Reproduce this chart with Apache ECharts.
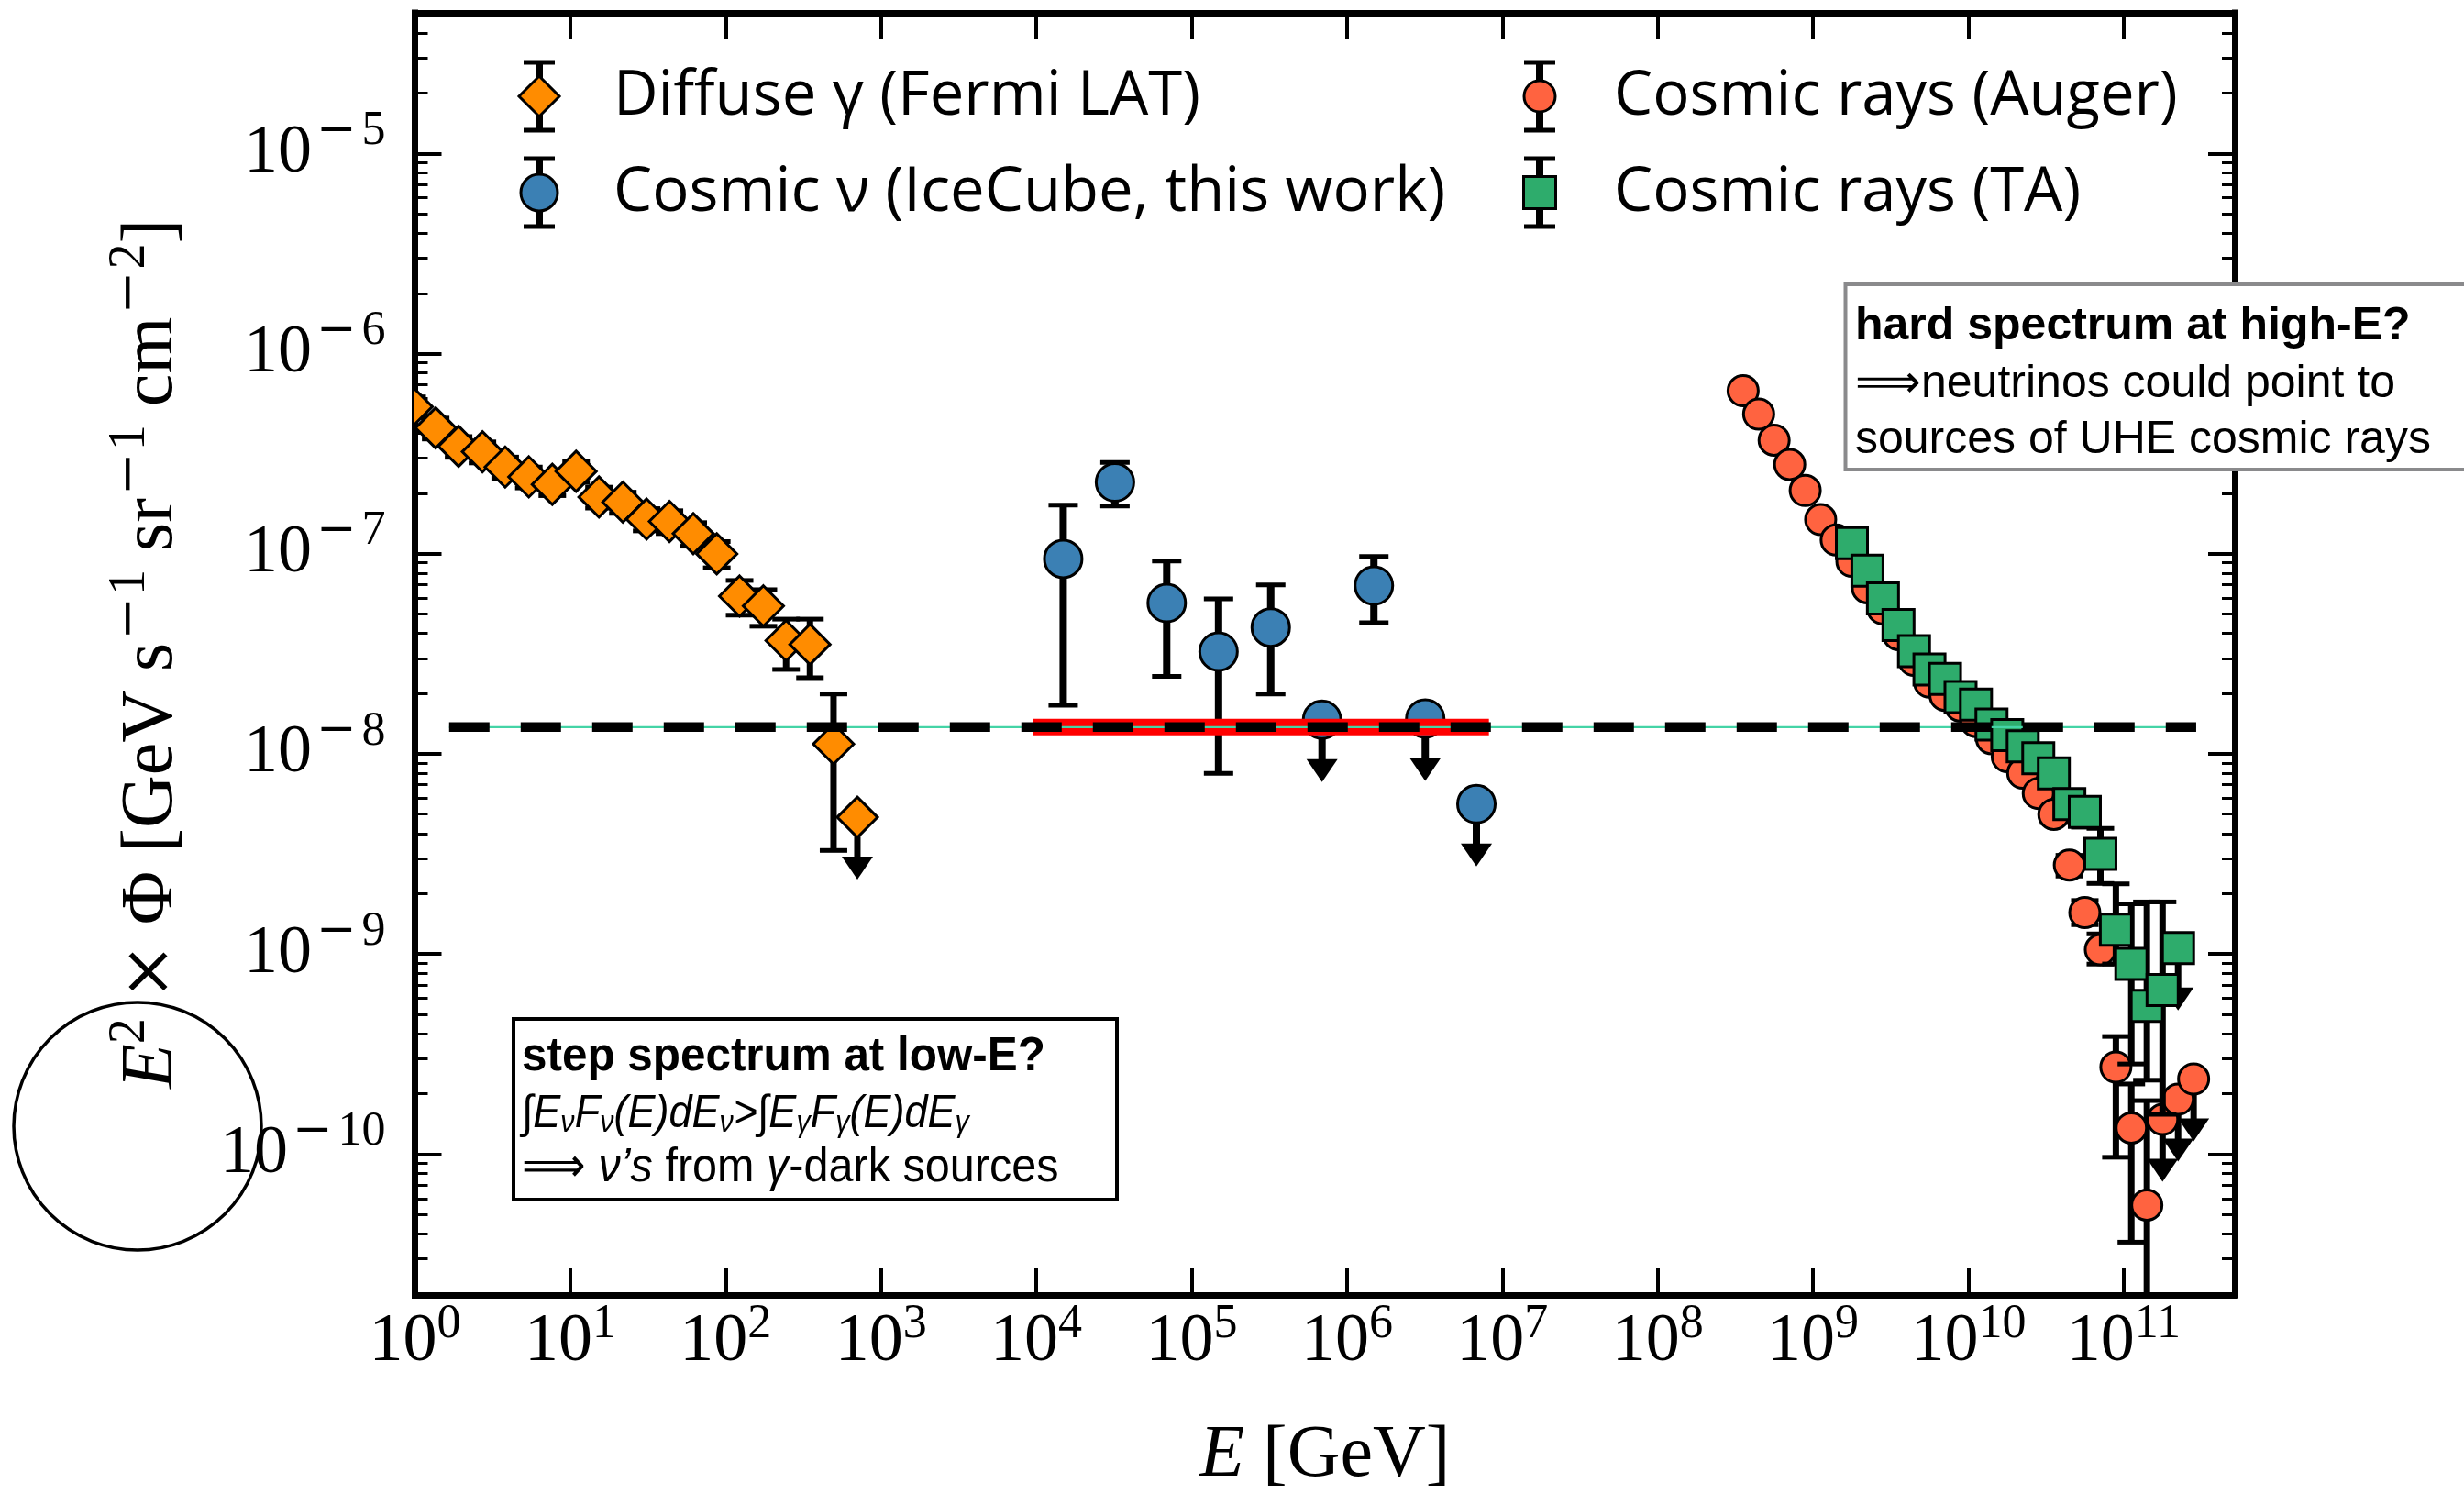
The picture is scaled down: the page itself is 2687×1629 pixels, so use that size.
<!DOCTYPE html>
<html>
<head>
<meta charset="utf-8">
<script src="https://cdn.jsdelivr.net/npm/echarts@6/dist/echarts.min.js"></script>
<style>
  html, body { margin: 0; padding: 0; background: #ffffff; }
  #chart { width: 2687px; height: 1629px; }
</style>
</head>
<body>
<div id="chart"></div>
<script>
// ---------------------------------------------------------------
// Multi-messenger spectra: E^2 x Phi [GeV s^-1 sr^-1 cm^-2] vs E [GeV]
// ---------------------------------------------------------------

// Diffuse gamma rays (Fermi LAT)
const fermiE    = [0.96, 1.36, 1.91, 2.72, 3.81, 5.41, 7.66, 10.9, 15.3, 21.8, 31.0, 43.5, 61.9, 87.7, 123, 175, 245, 349, 495, 705];
const fermiFlux = [5.43e-7, 4.25e-7, 3.44e-7, 3.23e-7, 2.71e-7, 2.42e-7, 2.22e-7, 2.58e-7, 1.92e-7, 1.81e-7, 1.49e-7, 1.45e-7, 1.26e-7, 9.98e-8, 6.14e-8, 5.48e-8, 3.68e-8, 3.52e-8, 1.12e-8, 4.82e-9];
const fermiLo   = [4.78e-7, 3.74e-7, 3.03e-7, 2.84e-7, 2.38e-7, 2.13e-7, 1.95e-7, 2.27e-7, 1.69e-7, 1.59e-7, 1.30e-7, 1.26e-7, 1.09e-7, 8.50e-8, 4.93e-8, 4.34e-8, 2.64e-8, 2.40e-8, 3.29e-9, 0];
const fermiHi   = [6.08e-7, 4.76e-7, 3.85e-7, 3.62e-7, 3.04e-7, 2.71e-7, 2.49e-7, 2.89e-7, 2.15e-7, 2.03e-7, 1.68e-7, 1.64e-7, 1.43e-7, 1.15e-7, 7.35e-8, 6.61e-8, 4.71e-8, 4.71e-8, 1.99e-8, 0];
const fermiUL   = [0, 0, 0, 0, 0, 0, 0, 0, 0, 0, 0, 0, 0, 0, 0, 0, 0, 0, 0, 1];

// Cosmic neutrinos (IceCube, this work)
const nuE    = [1.49e4, 3.21e4, 6.91e4, 1.49e5, 3.23e5, 6.91e5, 1.49e6, 3.19e6, 6.81e6];
const nuFlux = [9.42e-8, 2.27e-7, 5.67e-8, 3.24e-8, 4.28e-8, 1.48e-8, 6.93e-8, 1.50e-8, 5.61e-9];
const nuLo   = [1.75e-8, 1.73e-7, 2.44e-8, 7.98e-9, 1.99e-8, 0, 4.52e-8, 0, 0];
const nuHi   = [1.75e-7, 2.86e-7, 9.18e-8, 5.95e-8, 6.98e-8, 0, 9.68e-8, 0, 0];
const nuUL   = [0, 0, 0, 0, 0, 1, 0, 1, 1];

// Cosmic rays (Auger)
const augerE    = [3.55e8, 4.47e8, 5.62e8, 7.08e8, 8.91e8, 1.12e9, 1.41e9, 1.78e9, 2.24e9, 2.82e9,
                   3.55e9, 4.47e9, 5.62e9, 7.08e9, 8.91e9, 1.12e10, 1.41e10, 1.78e10, 2.24e10, 2.82e10,
                   3.55e10, 4.47e10, 5.62e10, 7.08e10, 8.91e10, 1.12e11, 1.41e11, 1.78e11, 2.24e11, 2.82e11];
const augerFlux = [6.52e-7, 4.98e-7, 3.69e-7, 2.79e-7, 2.07e-7, 1.48e-7, 1.17e-7, 9.16e-8, 6.75e-8, 5.30e-8,
                   3.94e-8, 2.93e-8, 2.28e-8, 1.96e-8, 1.73e-8, 1.45e-8, 1.19e-8, 9.68e-9, 8.00e-9, 6.34e-9,
                   4.98e-9, 2.78e-9, 1.61e-9, 1.05e-9, 2.72e-10, 1.35e-10, 5.56e-11, 1.49e-10, 1.88e-10, 2.37e-10];
const augerLo   = [6.25e-7, 4.78e-7, 3.54e-7, 2.68e-7, 1.99e-7, 1.42e-7, 1.12e-7, 8.79e-8, 6.48e-8, 5.09e-8,
                   3.78e-8, 2.81e-8, 2.19e-8, 1.88e-8, 1.66e-8, 1.38e-8, 1.13e-8, 9.10e-9, 7.44e-9, 5.83e-9,
                   4.53e-9, 2.45e-9, 1.40e-9, 8.90e-10, 9.64e-11, 3.63e-11, 1.00e-11, 0, 0, 0];
const augerHi   = [6.79e-7, 5.18e-7, 3.84e-7, 2.90e-7, 2.15e-7, 1.54e-7, 1.22e-7, 9.53e-8, 7.02e-8, 5.51e-8,
                   4.10e-8, 3.05e-8, 2.37e-8, 2.04e-8, 1.80e-8, 1.52e-8, 1.25e-8, 1.03e-8, 8.56e-9, 6.85e-9,
                   5.43e-9, 3.11e-9, 1.85e-9, 1.26e-9, 3.87e-10, 2.24e-10, 1.85e-10, 0, 0, 0];
const augerUL   = [0, 0, 0, 0, 0, 0, 0, 0, 0, 0, 0, 0, 0, 0, 0, 0, 0, 0, 0, 0, 0, 0, 0, 0, 0, 0, 0, 1, 1, 1];

// Cosmic rays (TA)
const taE    = [1.78e9, 2.24e9, 2.82e9, 3.55e9, 4.47e9, 5.62e9, 7.08e9, 8.91e9, 1.12e10, 1.41e10, 1.78e10,
                2.24e10, 2.82e10, 3.55e10, 4.47e10, 5.62e10, 7.08e10, 8.91e10, 1.12e11, 1.41e11, 1.78e11, 2.24e11];
const taFlux = [1.13e-7, 8.22e-8, 5.98e-8, 4.40e-8, 3.26e-8, 2.64e-8, 2.37e-8, 1.92e-8, 1.76e-8, 1.40e-8, 1.24e-8,
                1.09e-8, 9.51e-9, 7.98e-9, 5.61e-9, 5.13e-9, 3.16e-9, 1.32e-9, 8.91e-10, 5.50e-10, 6.61e-10, 1.07e-9];
const taLo   = [1.08e-7, 7.87e-8, 5.72e-8, 4.20e-8, 3.11e-8, 2.51e-8, 2.25e-8, 1.82e-8, 1.66e-8, 1.32e-8, 1.16e-8,
                1.01e-8, 8.75e-9, 7.26e-9, 4.95e-9, 4.30e-9, 2.25e-9, 8.91e-10, 2.82e-10, 2.34e-10, 1.58e-10, 0];
const taHi   = [1.18e-7, 8.57e-8, 6.24e-8, 4.60e-8, 3.41e-8, 2.77e-8, 2.49e-8, 2.02e-8, 1.86e-8, 1.48e-8, 1.32e-8,
                1.17e-8, 1.03e-8, 8.70e-9, 6.30e-9, 6.00e-9, 4.24e-9, 2.24e-9, 1.78e-9, 1.82e-9, 1.82e-9, 0];
const taUL   = [0, 0, 0, 0, 0, 0, 0, 0, 0, 0, 0, 0, 0, 0, 0, 0, 0, 0, 0, 0, 0, 1];

// Flat reference level and the neutrino fit band
const refLevel  = 1.36e-8;
const refLineE  = [1.66, 2.93e11];
const fitBandE  = [9.5e3, 8.2e6];

// Axis ranges (decades) and tick labels
const xRangeExp   = [0, 11.715];
const yRangeExp   = [-10.704, -4.2975];
const xTickExps   = [0, 1, 2, 3, 4, 5, 6, 7, 8, 9, 10, 11];
const yTickExps   = [-10, -9, -8, -7, -6, -5];
const yMinorMant  = [2, 3, 4, 5, 6, 7, 8, 9];

// Legend entries
const legendItems = [
  { label: 'Diffuse \u03b3 (Fermi LAT)',            kind: 'diamond', color: '#ff8c00', size: 44 },
  { label: 'Cosmic \u03bd (IceCube, this work)',    kind: 'circle',  color: '#3b80b4', size: 40 },
  { label: 'Cosmic rays (Auger)',                   kind: 'circle',  color: '#ff6340', size: 34 },
  { label: 'Cosmic rays (TA)',                      kind: 'square',  color: '#2eac6c', size: 35 }
];

// ---------------------------------------------------------------
const LOG = Math.log10;
const SERIF = '"Liberation Serif", "DejaVu Serif", serif';
const SERIF_SYM = '"DejaVu Serif", serif';
const SANS_LEG = '"Open Sans", Lato, sans-serif';
const SANS_BOX = '"Liberation Sans", Arial, sans-serif';
const MINUS = '\u2212';

const ARROW_LEN = 68, ARROW_W = 34, ARROW_H = 25;

function toRows(E, F, lo, hi, ul) {
  return E.map((e, i) => [
    LOG(e), LOG(F[i]),
    lo[i] > 0 ? LOG(lo[i]) : LOG(F[i]),
    hi[i] > 0 ? LOG(hi[i]) : LOG(F[i]),
    ul[i]
  ]);
}

const fermiRows = toRows(fermiE, fermiFlux, fermiLo, fermiHi, fermiUL);
const nuRows    = toRows(nuE, nuFlux, nuLo, nuHi, nuUL);
const augerRows = toRows(augerE, augerFlux, augerLo, augerHi, augerUL);
const taRows    = toRows(taE, taFlux, taLo, taHi, taUL);

const yMinorTicks = [];
for (let n = -11; n <= -5; n++) {
  yMinorMant.forEach(k => {
    const v = n + LOG(k);
    if (v > yRangeExp[0] && v < yRangeExp[1]) yMinorTicks.push(v);
  });
}

// error bars (or a downward arrow for upper limits)
function errorBars(capHalf, lineW, capW) {
  return function (params, api) {
    const x = api.value(0);
    const c = api.coord([x, api.value(1)]);
    const kids = [];
    if (api.value(4) === 1) {
      const tip = c[1] + ARROW_LEN;
      kids.push({ type: 'line', shape: { x1: c[0], y1: c[1], x2: c[0], y2: tip - ARROW_H + 2 },
                  style: { stroke: '#000', lineWidth: lineW } });
      kids.push({ type: 'polygon',
                  shape: { points: [[c[0] - ARROW_W / 2, tip - ARROW_H], [c[0] + ARROW_W / 2, tip - ARROW_H], [c[0], tip]] },
                  style: { fill: '#000' } });
    } else {
      const yTop = api.coord([x, api.value(3)])[1];
      const yBot = api.coord([x, api.value(2)])[1];
      kids.push({ type: 'line', shape: { x1: c[0], y1: yTop, x2: c[0], y2: yBot },
                  style: { stroke: '#000', lineWidth: lineW } });
      kids.push({ type: 'line', shape: { x1: c[0] - capHalf, y1: yTop, x2: c[0] + capHalf, y2: yTop },
                  style: { stroke: '#000', lineWidth: capW } });
      kids.push({ type: 'line', shape: { x1: c[0] - capHalf, y1: yBot, x2: c[0] + capHalf, y2: yBot },
                  style: { stroke: '#000', lineWidth: capW } });
    }
    return { type: 'group', children: kids };
  };
}

function markerShape(kind, size, fill, cx, cy) {
  const style = { fill: fill, stroke: '#000', lineWidth: 3 };
  const h = size / 2;
  if (kind === 'diamond') {
    return { type: 'polygon', shape: { points: [[cx, cy - h], [cx + h, cy], [cx, cy + h], [cx - h, cy]] }, style };
  }
  if (kind === 'circle') {
    return { type: 'circle', shape: { cx: cx, cy: cy, r: h }, style };
  }
  return { type: 'rect', shape: { x: cx - h, y: cy - h, width: size, height: size }, style };
}

function markers(kind, size, fill) {
  return function (params, api) {
    const c = api.coord([api.value(0), api.value(1)]);
    return markerShape(kind, size, fill, c[0], c[1]);
  };
}

function customSeries(name, rows, renderItem, z) {
  return {
    type: 'custom', name: name, coordinateSystem: 'cartesian2d',
    xAxisIndex: 0, yAxisIndex: 0, data: rows,
    encode: { x: 0, y: 1 }, renderItem: renderItem, clip: true, z: z, silent: true
  };
}

// axis tick labels written as powers of ten
function expRich(raise) {
  return {
    b: { fontFamily: SERIF, fontSize: 74, lineHeight: 80, color: '#000' },
    s: { fontFamily: SERIF, fontSize: 52, lineHeight: 60, padding: [0, 0, raise, 0], color: '#000' },
    m: { fontFamily: SERIF_SYM, fontSize: 52, lineHeight: 60, padding: [0, 6, raise, 5], color: '#000' }
  };
}
const fmtExp = v => {
  const n = Math.round(v);
  return n < 0 ? '{b|10}{m|' + MINUS + '}{s|' + Math.abs(n) + '}' : '{b|10}{s|' + n + '}';
};

const spine = { show: true, lineStyle: { color: '#000', width: 7, cap: 'square' } };
const majorTick = len => ({ show: true, inside: true, length: len, lineStyle: { color: '#000', width: 4 } });
const minorTick = { show: true, inside: true, length: 14, customValues: yMinorTicks, lineStyle: { color: '#000', width: 3 } };

const xBase = { type: 'value', min: xRangeExp[0], max: xRangeExp[1], splitLine: { show: false }, gridIndex: 0 };
const yBase = { type: 'value', min: yRangeExp[0], max: yRangeExp[1], splitLine: { show: false }, gridIndex: 0 };

const TITLE_PX = 80, TITLE_SUP = 56;
const yTitleRich = {
  i: { fontFamily: SERIF, fontSize: TITLE_PX, fontStyle: 'italic', lineHeight: 86, color: '#000' },
  n: { fontFamily: SERIF, fontSize: TITLE_PX, lineHeight: 86, color: '#000' },
  x: { fontFamily: SERIF_SYM, fontSize: TITLE_PX - 6, lineHeight: 86, color: '#000' },
  s: { fontFamily: SERIF, fontSize: TITLE_SUP, lineHeight: 62, padding: [0, 0, 46, 0], color: '#000' },
  m: { fontFamily: SERIF_SYM, fontSize: TITLE_SUP, lineHeight: 62, padding: [0, 2, 46, 3], color: '#000' }
};

const option = {
  animation: false,
  backgroundColor: '#ffffff',
  grid: { left: 452.5, right: 250, top: 14, bottom: 217, containLabel: false, outerBoundsMode: 'none' },
  xAxis: [
    Object.assign({}, xBase, {
      position: 'bottom',
      axisLine: spine,
      axisTick: Object.assign(majorTick(29), { customValues: xTickExps }),
      axisLabel: { customValues: xTickExps, formatter: fmtExp, rich: expRich(40), margin: 12 },
      name: '{i|E}{n| [GeV]}',
      nameLocation: 'middle',
      nameGap: 176,
      nameTextStyle: {
        verticalAlign: 'middle', align: 'center',
        rich: {
          i: { fontFamily: SERIF, fontSize: TITLE_PX, fontStyle: 'italic', color: '#000' },
          n: { fontFamily: SERIF, fontSize: TITLE_PX, color: '#000' }
        }
      }
    }),
    Object.assign({}, xBase, {
      position: 'top',
      axisLine: spine,
      axisTick: Object.assign(majorTick(29), { customValues: xTickExps }),
      axisLabel: { show: false }
    })
  ],
  yAxis: [
    Object.assign({}, yBase, {
      position: 'left',
      axisLine: spine,
      axisTick: Object.assign(majorTick(29), { customValues: yTickExps }),
      axisLabel: { customValues: yTickExps, formatter: fmtExp, rich: expRich(48), margin: 32 },
      name: '{i|E}{s|2}{n| }{x|\u00d7}{n| \u03a6 [GeV s}{m|' + MINUS + '}{s|1}{n| sr}{m|' + MINUS + '}{s|1}{n| cm}{m|' + MINUS + '}{s|2}{n|]}',
      nameLocation: 'middle',
      nameRotate: 90,
      nameGap: 287,
      nameTextStyle: { verticalAlign: 'middle', align: 'center', rich: yTitleRich }
    }),
    Object.assign({}, yBase, {
      position: 'left',
      axisLine: { show: false },
      axisTick: minorTick,
      axisLabel: { show: false }
    }),
    Object.assign({}, yBase, {
      position: 'right',
      axisLine: spine,
      axisTick: Object.assign(majorTick(29), { customValues: yTickExps }),
      axisLabel: { show: false }
    }),
    Object.assign({}, yBase, {
      position: 'right',
      axisLine: { show: false },
      axisTick: minorTick,
      axisLabel: { show: false }
    })
  ],
  series: [
    customSeries('Fermi LAT errors', fermiRows, errorBars(15, 7, 5), 2),
    customSeries('Diffuse \u03b3 (Fermi LAT)', fermiRows, markers('diamond', 44, '#ff8c00'), 3),
    customSeries('IceCube errors', nuRows, errorBars(16, 8, 5), 4),
    customSeries('Cosmic \u03bd (IceCube, this work)', nuRows, markers('circle', 41, '#3b80b4'), 5),
    customSeries('Auger errors', augerRows, errorBars(15, 7, 5), 6),
    customSeries('Cosmic rays (Auger)', augerRows, markers('circle', 33, '#ff6340'), 7),
    customSeries('TA errors', taRows, errorBars(15, 7, 5), 8),
    customSeries('Cosmic rays (TA)', taRows, markers('square', 34, '#2eac6c'), 9),
    {
      type: 'line', name: 'fit band', silent: true, z: 10, symbol: 'none',
      data: [[LOG(fitBandE[0]), LOG(refLevel)], [LOG(fitBandE[1]), LOG(refLevel)]],
      lineStyle: { color: '#ff0000', width: 18 }
    },
    {
      type: 'line', name: 'reference', silent: true, z: 11, symbol: 'none',
      data: [[LOG(refLineE[0]), LOG(refLevel)], [LOG(refLineE[1]), LOG(refLevel)]],
      lineStyle: { color: '#44d4a6', width: 2.2 }
    },
    {
      type: 'line', name: 'reference dashed', silent: true, z: 12, symbol: 'none',
      data: [[LOG(refLineE[0]), LOG(refLevel)], [LOG(refLineE[1]), LOG(refLevel)]],
      lineStyle: { color: '#000000', width: 10.5, type: [44, 34] }
    }
  ]
};

// put every graphic element (and its children) on a given layer
function onLayer(el, z) {
  el.z = z;
  if (el.children) el.children.forEach(ch => onLayer(ch, z));
  return el;
}

// legend (error bar + marker + label), two columns
const legendPos = [[588, 105], [588, 210], [1679, 105], [1679, 210]];
const legendGraphics = legendItems.map((it, i) => {
  const [mx, my] = legendPos[i];
  return onLayer({
    type: 'group',
    children: [
      { type: 'line', shape: { x1: mx, y1: my - 37, x2: mx, y2: my + 37 }, style: { stroke: '#000', lineWidth: 8 } },
      { type: 'line', shape: { x1: mx - 17, y1: my - 37, x2: mx + 17, y2: my - 37 }, style: { stroke: '#000', lineWidth: 5 } },
      { type: 'line', shape: { x1: mx - 17, y1: my + 37, x2: mx + 17, y2: my + 37 }, style: { stroke: '#000', lineWidth: 5 } },
      markerShape(it.kind, it.size, it.color, mx, my),
      { type: 'text', x: mx + 81, y: my + 1,
        style: { text: it.label, font: '67px ' + SANS_LEG, fill: '#000', align: 'left', verticalAlign: 'middle' } }
    ]
  }, 100);
});

option.graphic = legendGraphics.concat([
  // low-energy note
  onLayer({
    type: 'group',
    children: [
      { type: 'rect', shape: { x: 560, y: 1111, width: 658, height: 197 },
        style: { fill: '#ffffff', stroke: '#000000', lineWidth: 4 } },
      { type: 'text', x: 569, y: 1153, scaleX: 0.95,
        style: { text: 'step spectrum at low-E?', font: 'bold 52px ' + SANS_BOX, fill: '#000', verticalAlign: 'middle' } },
      { type: 'text', x: 569, y: 1215, scaleX: 0.9,
        style: {
          text: '{i|\u222bE}{u|\u03bd}{i|F}{u|\u03bd}{i|(E)dE}{u|\u03bd}{i|>\u222bE}{u|\u03b3}{i|F}{u|\u03b3}{i|(E)dE}{u|\u03b3}',
          verticalAlign: 'middle',
          rich: {
            i: { fontFamily: SANS_BOX, fontSize: 50, fontStyle: 'italic', fill: '#000', lineHeight: 56 },
            u: { fontFamily: SANS_BOX, fontSize: 34, fontStyle: 'italic', fill: '#000', lineHeight: 36, padding: [20, 0, 0, 0] }
          }
        } },
      { type: 'text', x: 569, y: 1274, scaleX: 0.934,
        style: {
          text: '{n|\u27f9 }{i|\u03bd\u2019s}{n| from }{i|\u03b3}{n|-dark sources}',
          verticalAlign: 'middle',
          rich: {
            n: { fontFamily: SANS_BOX, fontSize: 52, fill: '#000' },
            i: { fontFamily: SANS_BOX, fontSize: 52, fontStyle: 'italic', fill: '#000' }
          }
        } }
    ]
  }, 110),
  // high-energy note
  onLayer({
    type: 'group',
    children: [
      { type: 'rect', shape: { x: 2012.5, y: 310, width: 720, height: 202 },
        style: { fill: '#ffffff', stroke: '#8a8a8c', lineWidth: 4 } },
      { type: 'text', x: 2023, y: 356,
        style: { text: 'hard spectrum at high-E?', font: 'bold 50px ' + SANS_BOX, fill: '#000', verticalAlign: 'middle' } },
      { type: 'text', x: 2023, y: 419,
        style: { text: '\u27f9neutrinos could point to', font: '50px ' + SANS_BOX, fill: '#000', verticalAlign: 'middle' } },
      { type: 'text', x: 2023, y: 480,
        style: { text: 'sources of UHE cosmic rays', font: '50px ' + SANS_BOX, fill: '#000', verticalAlign: 'middle' } }
    ]
  }, 110),
  // hand-drawn circle around the lower-left corner label
  onLayer({
    type: 'circle', silent: true,
    shape: { cx: 150, cy: 1228, r: 135 },
    style: { fill: 'none', stroke: '#000', lineWidth: 3.5 }
  }, 120)
]);

const chart = echarts.init(document.getElementById('chart'), null, { renderer: 'canvas' });
chart.setOption(option);
</script>
</body>
</html>
